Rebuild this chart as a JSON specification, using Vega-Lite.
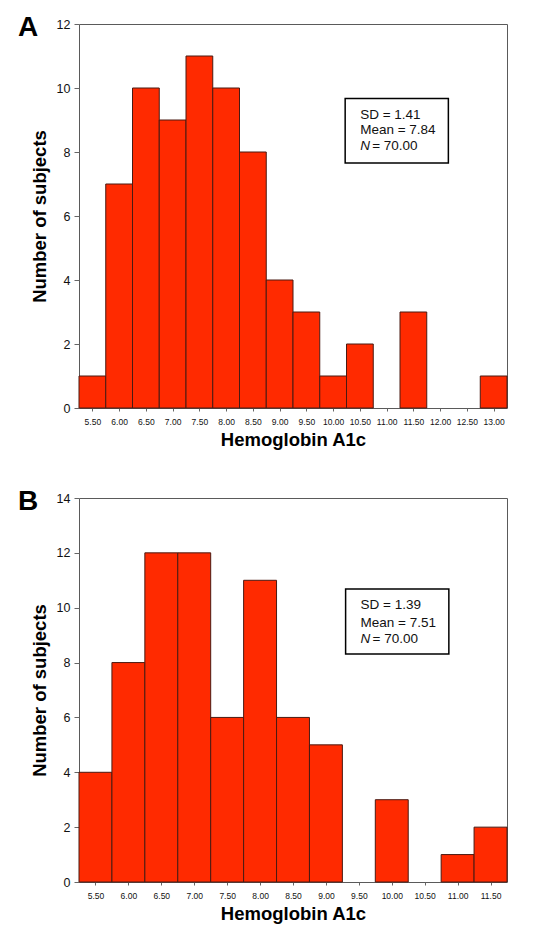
{
  "$schema": "https://vega.github.io/schema/vega-lite/v6.json",
  "padding": {"left": 17, "top": 13, "right": 5, "bottom": 5},
  "spacing": 37,
  "config": {
    "font": "Liberation Sans",
    "view": {"stroke": "#5a5a5a", "strokeWidth": 1},
    "axis": {"grid": false, "domain": false, "tickColor": "#666", "labelColor": "#111", "titleColor": "#000", "titleFont": "Liberation Sans", "titleFontWeight": "bold", "titleFontSize": 18.5, "labelFlush": false, "labelOverlap": false},
    "axisX": {"tickSize": 3, "labelFontSize": 8.5, "labelPadding": 6, "titlePadding": 5, "format": ".2f"},
    "axisY": {"tickSize": 5, "labelFontSize": 12.5, "labelPadding": 4, "titlePadding": 7, "format": "d"},
    "title": {"fontSize": 28, "fontWeight": "bold", "anchor": "start", "frame": "bounds", "color": "#000"}
  },
  "datasets": {
    "panelA": [
      {"bin_start": 5.25, "bin_end": 5.75, "count": 1},
      {"bin_start": 5.75, "bin_end": 6.25, "count": 7},
      {"bin_start": 6.25, "bin_end": 6.75, "count": 10},
      {"bin_start": 6.75, "bin_end": 7.25, "count": 9},
      {"bin_start": 7.25, "bin_end": 7.75, "count": 11},
      {"bin_start": 7.75, "bin_end": 8.25, "count": 10},
      {"bin_start": 8.25, "bin_end": 8.75, "count": 8},
      {"bin_start": 8.75, "bin_end": 9.25, "count": 4},
      {"bin_start": 9.25, "bin_end": 9.75, "count": 3},
      {"bin_start": 9.75, "bin_end": 10.25, "count": 1},
      {"bin_start": 10.25, "bin_end": 10.75, "count": 2},
      {"bin_start": 10.75, "bin_end": 11.25, "count": 0},
      {"bin_start": 11.25, "bin_end": 11.75, "count": 3},
      {"bin_start": 11.75, "bin_end": 12.25, "count": 0},
      {"bin_start": 12.25, "bin_end": 12.75, "count": 0},
      {"bin_start": 12.75, "bin_end": 13.25, "count": 1}
    ],
    "panelB": [
      {"bin_start": 5.25, "bin_end": 5.75, "count": 4},
      {"bin_start": 5.75, "bin_end": 6.25, "count": 8},
      {"bin_start": 6.25, "bin_end": 6.75, "count": 12},
      {"bin_start": 6.75, "bin_end": 7.25, "count": 12},
      {"bin_start": 7.25, "bin_end": 7.75, "count": 6},
      {"bin_start": 7.75, "bin_end": 8.25, "count": 11},
      {"bin_start": 8.25, "bin_end": 8.75, "count": 6},
      {"bin_start": 8.75, "bin_end": 9.25, "count": 5},
      {"bin_start": 9.25, "bin_end": 9.75, "count": 0},
      {"bin_start": 9.75, "bin_end": 10.25, "count": 3},
      {"bin_start": 10.25, "bin_end": 10.75, "count": 0},
      {"bin_start": 10.75, "bin_end": 11.25, "count": 1},
      {"bin_start": 11.25, "bin_end": 11.75, "count": 2}
    ],
    "one": [{}]
  },
  "vconcat": [
    {
      "width": 428,
      "height": 384,
      "title": {"text": "A", "dy": 28, "dx": -12},
      "layer": [
        {
          "data": {"name": "panelA"},
          "transform": [{"filter": "datum.count > 0"}],
          "mark": {"type": "rect", "fill": "#ff2a00", "stroke": "#4a1a12", "strokeWidth": 1},
          "encoding": {
            "x": {"field": "bin_start", "type": "quantitative", "scale": {"domain": [5.25, 13.25], "nice": false, "zero": false}, "axis": {"title": "Hemoglobin A1c", "labelOverlap": false, "tickCount": 40, "values": [5.5, 6, 6.5, 7, 7.5, 8, 8.5, 9, 9.5, 10, 10.5, 11, 11.5, 12, 12.5, 13]}},
            "x2": {"field": "bin_end"},
            "y": {"field": "count", "type": "quantitative", "scale": {"domain": [0, 12], "nice": false}, "axis": {"title": "Number of subjects", "format": "d", "tickCount": 40, "values": [0, 2, 4, 6, 8, 10, 12]}},
            "y2": {"datum": 0}
          }
        },
        {
          "data": {"name": "one"},
          "mark": {"type": "rect", "fill": "#ffffff", "stroke": "#000000", "strokeWidth": 1.5},
          "encoding": {"x": {"datum": 10.225}, "x2": {"datum": 12.154}, "y": {"datum": 9.67}, "y2": {"datum": 7.656}}
        },
        {
          "data": {"name": "one"},
          "mark": {"type": "text", "text": "SD = 1.41", "align": "left", "baseline": "middle", "fontSize": 13.5, "color": "#111"},
          "encoding": {"x": {"datum": 10.505}, "y": {"datum": 9.169}}
        },
        {
          "data": {"name": "one"},
          "mark": {"type": "text", "text": "Mean = 7.84", "align": "left", "baseline": "middle", "fontSize": 13.5, "color": "#111"},
          "encoding": {"x": {"datum": 10.505}, "y": {"datum": 8.678}}
        },
        {
          "data": {"name": "one"},
          "mark": {"type": "text", "text": "N", "fontStyle": "italic", "align": "left", "baseline": "middle", "fontSize": 13.5, "color": "#111"},
          "encoding": {"x": {"datum": 10.505}, "y": {"datum": 8.1875}}
        },
        {
          "data": {"name": "one"},
          "mark": {"type": "text", "text": "= 70.00", "dx": 12, "align": "left", "baseline": "middle", "fontSize": 13.5, "color": "#111"},
          "encoding": {"x": {"datum": 10.505}, "y": {"datum": 8.1875}}
        }
      ]
    },
    {
      "width": 428,
      "height": 384,
      "title": {"text": "B", "dy": 28, "dx": -12},
      "layer": [
        {
          "data": {"name": "panelB"},
          "transform": [{"filter": "datum.count > 0"}],
          "mark": {"type": "rect", "fill": "#ff2a00", "stroke": "#4a1a12", "strokeWidth": 1},
          "encoding": {
            "x": {"field": "bin_start", "type": "quantitative", "scale": {"domain": [5.25, 11.75], "nice": false, "zero": false}, "axis": {"title": "Hemoglobin A1c", "labelOverlap": false, "tickCount": 40, "values": [5.5, 6, 6.5, 7, 7.5, 8, 8.5, 9, 9.5, 10, 10.5, 11, 11.5]}},
            "x2": {"field": "bin_end"},
            "y": {"field": "count", "type": "quantitative", "scale": {"domain": [0, 14], "nice": false}, "axis": {"title": "Number of subjects", "format": "d", "tickCount": 40, "values": [0, 2, 4, 6, 8, 10, 12, 14]}},
            "y2": {"datum": 0}
          }
        },
        {
          "data": {"name": "one"},
          "mark": {"type": "rect", "fill": "#ffffff", "stroke": "#000000", "strokeWidth": 1.5},
          "encoding": {"x": {"datum": 9.299}, "x2": {"datum": 10.867}, "y": {"datum": 10.68}, "y2": {"datum": 8.309}}
        },
        {
          "data": {"name": "one"},
          "mark": {"type": "text", "text": "SD = 1.39", "align": "left", "baseline": "middle", "fontSize": 13.5, "color": "#111"},
          "encoding": {"x": {"datum": 9.526}, "y": {"datum": 10.09}}
        },
        {
          "data": {"name": "one"},
          "mark": {"type": "text", "text": "Mean = 7.51", "align": "left", "baseline": "middle", "fontSize": 13.5, "color": "#111"},
          "encoding": {"x": {"datum": 9.526}, "y": {"datum": 9.46}}
        },
        {
          "data": {"name": "one"},
          "mark": {"type": "text", "text": "N", "fontStyle": "italic", "align": "left", "baseline": "middle", "fontSize": 13.5, "color": "#111"},
          "encoding": {"x": {"datum": 9.526}, "y": {"datum": 8.85}}
        },
        {
          "data": {"name": "one"},
          "mark": {"type": "text", "text": "= 70.00", "dx": 12, "align": "left", "baseline": "middle", "fontSize": 13.5, "color": "#111"},
          "encoding": {"x": {"datum": 9.526}, "y": {"datum": 8.85}}
        }
      ]
    }
  ]
}
